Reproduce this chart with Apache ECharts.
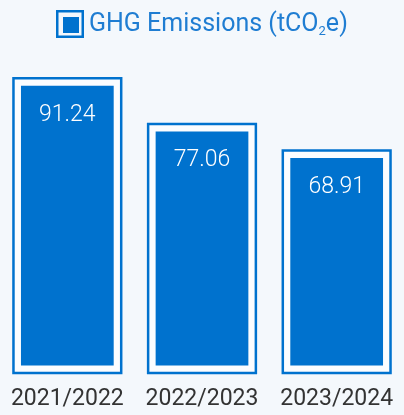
<!DOCTYPE html>
<html>
<head>
<meta charset="utf-8">
<script src="https://cdn.jsdelivr.net/npm/echarts@6/dist/echarts.min.js"></script>
<style>
  html, body { margin: 0; padding: 0; background: #f4f8fc; }
  #chart { width: 404px; height: 415px; }
</style>
</head>
<body>
<div id="chart"></div>
<script>
const years = ['2021/2022', '2022/2023', '2023/2024'];
const emissions = [91.24, 77.06, 68.91];
const seriesName = 'GHG Emissions (tCO2e)';

const blue = '#0072ce';

const option = {
    backgroundColor: '#f4f8fc',
    animation: false,
    legend: {
        left: 56,
        top: 10,
        padding: 0,
        itemWidth: 28,
        itemHeight: 28,
        icon: 'path://M0,0H28V28H0Z M2.5,2.5V25.5H25.5V2.5Z M7,7H23V23H7Z',
        itemStyle: { color: blue },
        formatter: function () {
            return '{a|GHG Emissions (tCO}{s|2}{a|e)}';
        },
        textStyle: {
            padding: [2, 0, 0, 0],
            rich: {
                a: { fontFamily: 'Roboto', fontSize: 25, color: '#1f7dd2' },
                s: { fontFamily: 'Roboto', fontSize: 13, color: '#1f7dd2', padding: [14, 0, 0, 0] },
            },
        },
        data: [seriesName],
    },
    grid: {
        left: -4,
        right: -10,
        top: 50,
        bottom: 42,
    },
    xAxis: {
        type: 'category',
        data: years,
        axisLine: { show: false },
        axisTick: { show: false },
        axisLabel: {
            interval: 0,
            hideOverlap: false,
            color: '#333333',
            fontFamily: 'Roboto',
            fontSize: 23,
            margin: 15,
        },
    },
    yAxis: {
        type: 'value',
        min: 0,
        max: 100,
        show: false,
    },
    series: [{
        name: seriesName,
        type: 'custom',
        data: emissions.map(function (v, i) { return [i, v]; }),
        encode: { x: 0, y: 1 },
        renderItem: function (params, api) {
            const top = api.coord([api.value(0), api.value(1)]);
            const base = api.coord([api.value(0), 0]);
            const w = api.size([1, 0])[0] * 0.8;
            const x = top[0] - w / 2;
            const h = base[1] - top[1];
            const inset = 7.5;
            return {
                type: 'group',
                children: [{
                    type: 'rect',
                    shape: { x: x, y: top[1], width: w, height: h },
                    style: { fill: '#fbfdff', stroke: blue, lineWidth: 2.5 },
                }, {
                    type: 'rect',
                    shape: { x: x + inset, y: top[1] + inset, width: w - inset * 2, height: h - inset * 2 },
                    style: { fill: blue },
                }, {
                    type: 'text',
                    x: top[0],
                    y: top[1] + inset + 29,
                    style: {
                        text: api.value(1).toFixed(2),
                        fill: '#ffffff',
                        font: '300 23px Roboto',
                        align: 'center',
                        verticalAlign: 'middle',
                    },
                }],
            };
        },
    }],
};

const chart = echarts.init(document.getElementById('chart'));
chart.setOption(option);
</script>
</body>
</html>
